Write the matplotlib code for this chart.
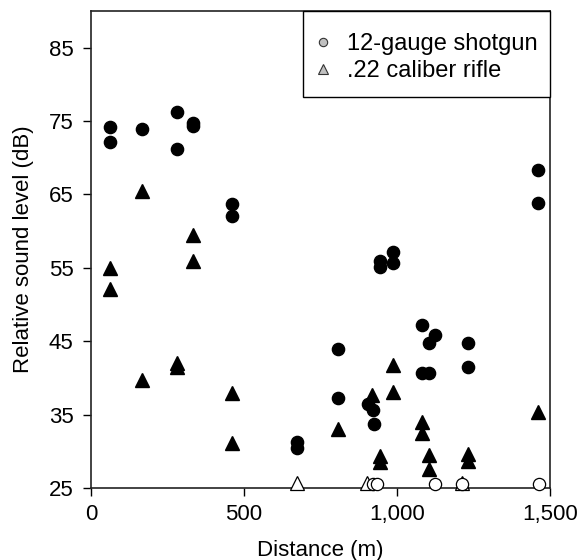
import matplotlib
matplotlib.use("Agg")
import matplotlib.pyplot as plt
from matplotlib.lines import Line2D
from matplotlib.patches import Rectangle

plt.rcParams['font.family'] = ['Liberation Sans', 'DejaVu Sans']

# Data
shotgun_dist = [62, 62, 166, 280, 280, 334, 334, 461, 461, 672, 672, 808, 808, 904, 923, 926,
                944, 944, 988, 988, 1081, 1081, 1106, 1124, 1106, 1233, 1233, 1462, 1462]
shotgun_db = [74.2, 72.2, 73.9, 76.2, 71.2, 74.8, 74.3, 63.7, 62.1, 31.3, 30.5, 43.9, 37.3, 36.5, 35.6, 33.7,
              56.0, 55.1, 57.1, 55.7, 47.2, 40.7, 44.7, 45.9, 40.7, 44.7, 41.5, 68.3, 63.9]

rifle_dist = [62, 62, 166, 166, 280, 280, 334, 334, 461, 461, 808, 917, 944, 944,
              988, 988, 1081, 1081, 1106, 1106, 1233, 1233, 1462]
rifle_db = [55.0, 52.1, 65.5, 39.7, 42.0, 41.5, 59.5, 56.0, 38.0, 31.2, 33.0, 37.7, 29.3, 28.5,
            41.8, 38.1, 34.0, 32.5, 29.5, 27.6, 29.6, 28.7, 35.3]

# Open markers (at floor level)
shotgun_open_dist = [923, 934, 1124, 1213, 1464]
shotgun_open_db = [25.6, 25.6, 25.6, 25.6, 25.6]
rifle_open_dist = [672, 901, 1213]
rifle_open_db = [25.7, 25.7, 25.7]

x_ticks = [0, 500, 1000, 1500]
x_ticklabels = ['0', '500', '1,000', '1,500']
y_ticks = [25, 35, 45, 55, 65, 75, 85]
legend_labels = ['12-gauge shotgun', '.22 caliber rifle']

fig = plt.figure(figsize=(5.79, 5.60), dpi=100)
ax = fig.add_axes([91/579, 1-488/560, (550-91)/579, (488-11)/560])

ms_c = 8.8
ms_t = 10
ax.plot(rifle_dist, rifle_db, linestyle='none', marker='^', ms=ms_t, color='black', zorder=3, clip_on=False)
ax.plot(shotgun_dist, shotgun_db, linestyle='none', marker='o', ms=ms_c, color='black', zorder=4, clip_on=False)
ax.plot(rifle_open_dist, rifle_open_db, linestyle='none', marker='^', ms=ms_t, mfc='white', mec='black',
        mew=0.9, zorder=3, clip_on=False)
ax.plot(shotgun_open_dist, shotgun_open_db, linestyle='none', marker='o', ms=ms_c, mfc='white', mec='black',
        mew=0.9, zorder=4, clip_on=False)

ax.set_xlim(0, 1500)
ax.set_ylim(25, 90)
ax.set_xticks(x_ticks)
ax.set_xticklabels(x_ticklabels)
ax.set_yticks(y_ticks)
ax.tick_params(direction='out', length=5.5, width=1, labelsize=16, colors='black')
ax.tick_params(axis='x', pad=6)
ax.tick_params(axis='y', pad=7)
for s in ax.spines.values():
    s.set_linewidth(1.2)
    s.set_color('#222222')

ax.set_xlabel('Distance (m)', fontsize=16, labelpad=11)
ax.set_ylabel('Relative sound level (dB)', fontsize=16, labelpad=11)

# Legend frame
ax.add_patch(Rectangle((0.462, 0.820), 0.538, 0.180, transform=ax.transAxes, fill=True,
                       facecolor='white', edgecolor='black', linewidth=1.0, zorder=5, clip_on=False))

handles = [
    Line2D([], [], linestyle='none', marker='o', ms=6, mfc='#c0c0c0', mec='#333333', mew=0.8),
    Line2D([], [], linestyle='none', marker='^', ms=7.5, mfc='#c0c0c0', mec='#333333', mew=0.8),
]
leg = ax.legend(handles, legend_labels, loc='center left', bbox_to_anchor=(0.490, 0.902),
                fontsize=17, frameon=False, borderaxespad=0, borderpad=0,
                handletextpad=0.7, handlelength=0.6, labelspacing=0.22)
leg.set_zorder(6)

fig.savefig('out.png', dpi=100)
